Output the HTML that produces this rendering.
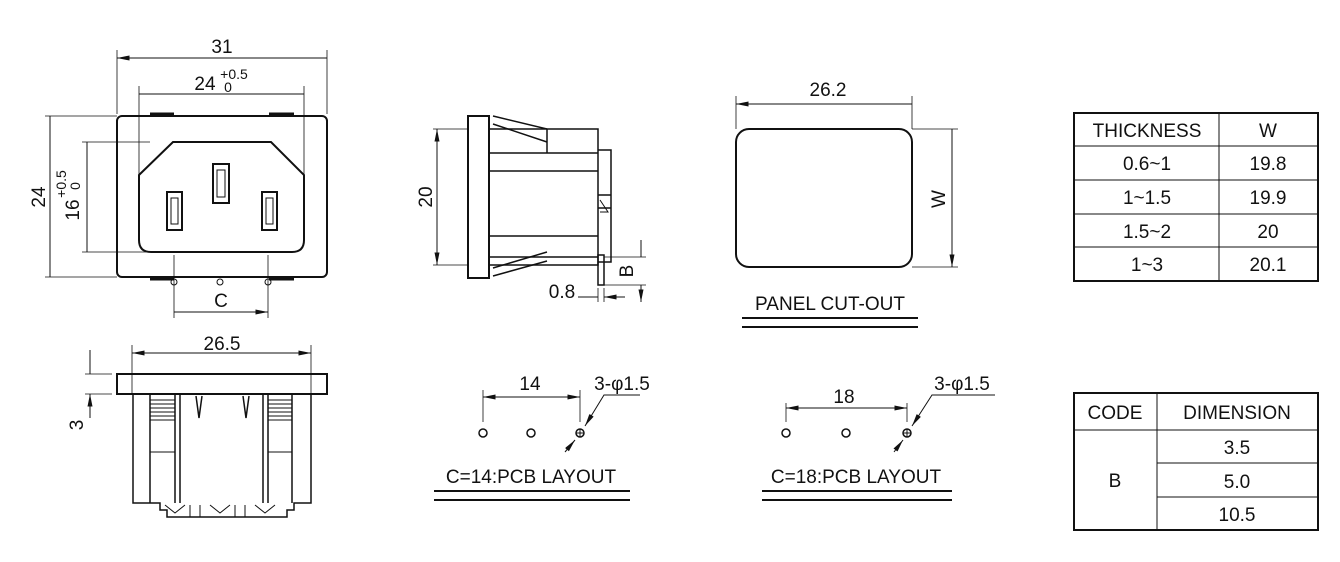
<!DOCTYPE html>
<html><head><meta charset="utf-8"><style>body{margin:0;background:#fff}svg{display:block}text{font-family:"Liberation Sans",sans-serif;fill:#111}</style></head><body>
<svg width="1340" height="562" viewBox="0 0 1340 562" xmlns="http://www.w3.org/2000/svg">
<defs><marker id="a" viewBox="0 0 10 4" refX="10" refY="2" markerWidth="14" markerHeight="5" orient="auto-start-reverse" markerUnits="userSpaceOnUse"><path d="M0,0L10,2L0,4z" fill="#111"/></marker></defs>
<g stroke="#111" fill="none" stroke-width="1">
<rect x="117" y="116" width="210" height="161" rx="5" stroke-width="2"/>
<path d="M139,175 L173,142 L271,142 L304,175 L304,240 Q304,252 292,252 L151,252 Q139,252 139,240 Z" stroke-width="2"/>
<rect x="167" y="192" width="15" height="38" stroke-width="2"/><rect x="171" y="198" width="7" height="26"/>
<rect x="213" y="164" width="16" height="39" stroke-width="2"/><rect x="217" y="170" width="8" height="27"/>
<rect x="262" y="192" width="15" height="38" stroke-width="2"/><rect x="266" y="198" width="7" height="26"/>
<path d="M150,114H174M269,114H294M150,279H174M269,279H294" stroke-width="3"/>
<circle cx="174" cy="282" r="3"/><circle cx="220" cy="282" r="3"/><circle cx="268" cy="282" r="3"/>
<path d="M117,114V50M327,114V50M139,175V86M304,175V86M45,116H117M45,277H117M82,142H150M82,252H150M174,255V318M268,255V318" stroke-width="0.8"/>
<path d="M117,58H327M139,94H304M50,116V277M87,142V252M174,312H268" marker-start="url(#a)" marker-end="url(#a)"/>
<rect x="468" y="116" width="21" height="162" stroke-width="2"/>
<path d="M489,129H598V265H489M489,153H598M489,171H598M489,236H598M489,257H598M547,129V153M598,150H611V262H598M598,195H611M598,208H611" stroke-width="1.5"/>
<path d="M493,116L547,129M493,124L547,142M493,276L547,261M493,268L547,252" stroke-width="1.5"/>
<path d="M600,200L608,212L600,212" />
<rect x="598" y="255" width="6" height="30" stroke-width="1.5"/>
<path d="M433,129H468M433,265H468M604,257H646M604,285H646M598,288V302M604,288V302" stroke-width="0.8"/>
<path d="M437,129V265" marker-start="url(#a)" marker-end="url(#a)"/>
<path d="M641,240V257M641,285V302" marker-end="url(#a)"/>
<path d="M578,297H598M625,297H604" marker-end="url(#a)"/>
<rect x="117" y="374" width="210" height="20" stroke-width="2"/>
<path d="M133,394V503H160V510H167V517H287V510H294V503H311V394M150,394V503M175,394V503M180,394V503M263,394V503M268,394V503M292,394V503" stroke-width="1.5"/>
<path d="M150,400H175M150,404H175M150,408H175M150,412H175M150,416H175M150,420H175M150,452H175M268,400H292M268,404H292M268,408H292M268,412H292M268,416H292M268,420H292M268,452H292"/>
<path d="M196,396L199,418L202,396M243,396L246,418L249,396" stroke-width="1.5"/>
<path d="M165,505L175,513L185,505M210,505L220,513L230,505M255,505L265,513L275,505M190,505V517M200,505V517M235,505V517M245,505V517" />
<path d="M132,394V345M311,394V345M85,374H112M85,394H112" stroke-width="0.8"/>
<path d="M132,353H311" marker-start="url(#a)" marker-end="url(#a)"/>
<path d="M90,350V374M90,418V394" marker-end="url(#a)"/>
<rect x="736" y="129" width="176" height="138" rx="13" stroke-width="2"/>
<path d="M736,129V96M912,129V96M912,129H958M912,267H958" stroke-width="0.8"/>
<path d="M736,104H912M952,129V267" marker-start="url(#a)" marker-end="url(#a)"/>
<path d="M742,318H918M742,327H918" stroke-width="2"/>
<circle cx="483" cy="433" r="4" stroke-width="1.5"/><circle cx="531" cy="433" r="4" stroke-width="1.5"/><circle cx="580" cy="433" r="4" stroke-width="1.5"/>
<path d="M580,429V437M576,433H584"/>
<path d="M483,422V390M580,422V390" stroke-width="0.8"/>
<path d="M483,397H580" marker-start="url(#a)" marker-end="url(#a)"/>
<path d="M640,395H604L585,426" marker-end="url(#a)"/><path d="M565,452L575,440" marker-end="url(#a)"/>
<path d="M434,491H630M434,500H630" stroke-width="2"/>
<circle cx="786" cy="433" r="4" stroke-width="1.5"/><circle cx="846" cy="433" r="4" stroke-width="1.5"/><circle cx="907" cy="433" r="4" stroke-width="1.5"/>
<path d="M907,429V437M903,433H911"/>
<path d="M786,422V403M907,422V403" stroke-width="0.8"/>
<path d="M786,408H907" marker-start="url(#a)" marker-end="url(#a)"/>
<path d="M995,395H932L912,426" marker-end="url(#a)"/><path d="M894,452L903,440" marker-end="url(#a)"/>
<path d="M762,491H952M762,500H952" stroke-width="2"/>
<rect x="1074" y="113" width="244" height="168" stroke-width="2"/>
<path d="M1219,113V281M1074,146H1318M1074,180H1318M1074,214H1318M1074,247H1318"/>
<rect x="1074" y="393" width="244" height="137" stroke-width="2"/>
<path d="M1157,393V530M1074,430H1318M1157,463H1318M1157,497H1318"/>
</g>
<g font-size="19" text-anchor="middle">
<text x="222" y="53">31</text>
<text x="205" y="90">24</text><text x="234" y="79" font-size="14">+0.5</text><text x="228" y="92" font-size="14">0</text>
<text x="45" y="197" transform="rotate(-90 45 197)">24</text>
<text x="79" y="210" transform="rotate(-90 79 210)">16</text>
<text x="66" y="184" font-size="14" transform="rotate(-90 66 184)">+0.5</text>
<text x="80" y="186" font-size="14" transform="rotate(-90 80 186)">0</text>
<text x="221" y="307">C</text>
<text x="432" y="197" transform="rotate(-90 432 197)">20</text>
<text x="562" y="298">0.8</text>
<text x="633" y="271" transform="rotate(-90 633 271)">B</text>
<text x="222" y="350">26.5</text>
<text x="83" y="425" transform="rotate(-90 83 425)">3</text>
<text x="828" y="96">26.2</text>
<text x="945" y="199" transform="rotate(-90 945 199)">W</text>
<text x="830" y="310">PANEL CUT-OUT</text>
<text x="530" y="390">14</text>
<text x="622" y="390">3-φ1.5</text>
<text x="531" y="483">C=14:PCB LAYOUT</text>
<text x="844" y="403">18</text>
<text x="962" y="390">3-φ1.5</text>
<text x="856" y="483">C=18:PCB LAYOUT</text>
<text x="1147" y="137">THICKNESS</text><text x="1268" y="137">W</text>
<text x="1147" y="170">0.6~1</text><text x="1268" y="170">19.8</text>
<text x="1147" y="204">1~1.5</text><text x="1268" y="204">19.9</text>
<text x="1147" y="238">1.5~2</text><text x="1268" y="238">20</text>
<text x="1147" y="271">1~3</text><text x="1268" y="271">20.1</text>
<text x="1115" y="419">CODE</text><text x="1237" y="419">DIMENSION</text>
<text x="1115" y="487">B</text>
<text x="1237" y="454">3.5</text><text x="1237" y="488">5.0</text><text x="1237" y="521">10.5</text>
</g>
</svg>
</body></html>
